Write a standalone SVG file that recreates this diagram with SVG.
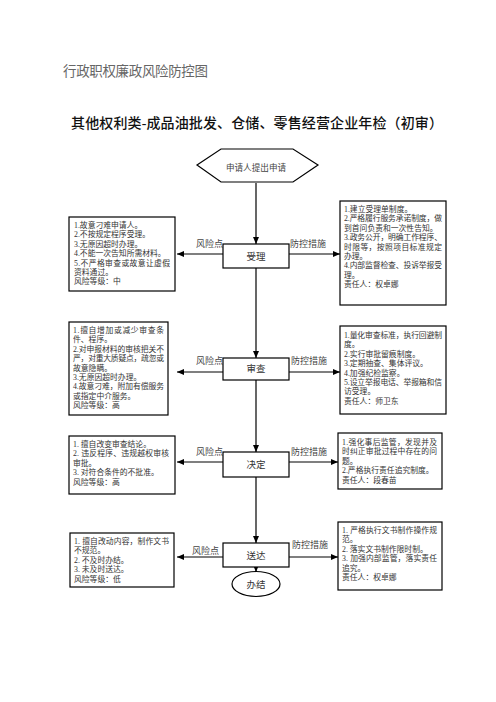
<svg xmlns="http://www.w3.org/2000/svg" width="496" height="702" viewBox="0 0 496 702">
<style>
text{font-family:"Liberation Serif","Noto Sans CJK SC",serif;}
.box{fill:#fff;stroke:#000;stroke-width:1.2;}
.t{font-size:7.8px;fill:#333;}
.lbl{font-size:9px;fill:#444;}
.proc{font-size:9.5px;fill:#333;text-anchor:middle;}
.ln{stroke:#000;stroke-width:1.2;fill:none;marker-end:url(#ah);}
</style>
<defs>
<marker id="ah" markerUnits="userSpaceOnUse" markerWidth="8" markerHeight="6" refX="7" refY="3" orient="auto">
<path d="M0,0 L7,3 L0,6 z" fill="#000"/>
</marker>
</defs>
<rect width="496" height="702" fill="#fff"/>
<text x="63" y="76" font-size="13.5" fill="#666" textLength="145">行政职权廉政风险防控图</text>
<text x="71" y="128" font-size="14" fill="#111" font-weight="500" textLength="372">其他权利类-成品油批发、仓储、零售经营企业年检（初审）</text>

<g id="connectors">
<line class="ln" x1="256" y1="183" x2="256" y2="244"/>
<line class="ln" x1="256" y1="268" x2="256" y2="358"/>
<line class="ln" x1="256" y1="380" x2="256" y2="452"/>
<line class="ln" x1="256" y1="477" x2="256" y2="543"/>
<line class="ln" x1="256" y1="567" x2="256" y2="572"/>
<line class="ln" x1="223" y1="254" x2="177" y2="254"/>
<line class="ln" x1="289" y1="254" x2="340" y2="254"/>
<line class="ln" x1="223" y1="372" x2="177" y2="372"/>
<line class="ln" x1="289" y1="372" x2="340" y2="372"/>
<line class="ln" x1="223" y1="462" x2="177" y2="462"/>
<line class="ln" x1="289" y1="462" x2="338" y2="462"/>
<line class="ln" x1="223" y1="557" x2="177" y2="557"/>
<line class="ln" x1="289" y1="557" x2="338" y2="557"/>
<text class="lbl" x="196" y="247">风险点</text>
<text class="lbl" x="290" y="247">防控措施</text>
<text class="lbl" x="196" y="364">风险点</text>
<text class="lbl" x="291" y="364">防控措施</text>
<text class="lbl" x="196" y="455">风险点</text>
<text class="lbl" x="291" y="455">防控措施</text>
<text class="lbl" x="192" y="554">风险点</text>
<text class="lbl" x="292" y="548">防控措施</text>
</g>

<g id="start">
<polygon class="box" points="197,165 221,149 293,149 318,165 293,182 221,182"/>
<text x="256" y="171" font-size="8.6" fill="#444" text-anchor="middle">申请人提出申请</text>
</g>

<g id="shouli">
<rect class="box" x="223" y="244" width="66" height="24"/>
<text class="proc" x="256" y="259.5">受理</text>
</g>
<g id="shencha">
<rect class="box" x="223" y="358" width="66" height="22"/>
<text class="proc" x="256" y="372">审查</text>
</g>
<g id="jueding">
<rect class="box" x="223" y="452" width="66" height="25"/>
<text class="proc" x="256" y="468">决定</text>
</g>
<g id="songda">
<rect class="box" x="223" y="543" width="66" height="24"/>
<text class="proc" x="256" y="558.5">送达</text>
</g>
<g id="banjie">
<ellipse class="box" cx="256" cy="584" rx="24" ry="12.5"/>
<text class="proc" x="256" y="587.5">办结</text>
</g>

<g id="risk1">
<rect class="box" x="69" y="217" width="106" height="74"/>
<text class="t" x="74" y="228">1.故意刁难申请人。</text>
<text class="t" x="74" y="237.4">2.不按规定程序受理。</text>
<text class="t" x="74" y="246.8">3.无原因超时办理。</text>
<text class="t" x="74" y="256.2">4.不能一次告知所需材料。</text>
<text class="t" x="74" y="265.6" textLength="96">5.不严格审查或故意让虚假</text>
<text class="t" x="74" y="275">资料通过。</text>
<text class="t" x="74" y="284.4">风险等级：中</text>
</g>
<g id="measure1">
<rect class="box" x="340" y="201" width="106" height="104"/>
<text class="t" x="344" y="212">1.建立受理单制度。</text>
<text class="t" x="344" y="221.4" textLength="98">2.严格履行服务承诺制度，做</text>
<text class="t" x="344" y="230.8">到首问负责和一次性告知。</text>
<text class="t" x="344" y="240.2" textLength="98">3.政务公开，明确工作程序、</text>
<text class="t" x="344" y="249.6" textLength="98">时限等，按照项目标准规定</text>
<text class="t" x="344" y="259">办理。</text>
<text class="t" x="344" y="268.4" textLength="98">4.内部监督检查、投诉举报受</text>
<text class="t" x="344" y="277.8">理。</text>
<text class="t" x="344" y="287.2">责任人：权卓娜</text>
</g>

<g id="risk2">
<rect class="box" x="69" y="322" width="99" height="93"/>
<text class="t" x="73" y="333" textLength="91">1.擅自增加或减少审查条</text>
<text class="t" x="73" y="342.4">件、程序。</text>
<text class="t" x="73" y="351.8" textLength="91">2.对申报材料的审核把关不</text>
<text class="t" x="73" y="361.2" textLength="91">严，对重大质疑点，疏忽或</text>
<text class="t" x="73" y="370.6">故意隐瞒。</text>
<text class="t" x="73" y="380">3.无原因超时办理。</text>
<text class="t" x="73" y="389.4" textLength="91">4.故意刁难，附加有偿服务</text>
<text class="t" x="73" y="398.8">或指定中介服务。</text>
<text class="t" x="73" y="408.2">风险等级：高</text>
</g>
<g id="measure2">
<rect class="box" x="340" y="326" width="106" height="88"/>
<text class="t" x="344" y="338" textLength="98">1.量化审查标准，执行回避制</text>
<text class="t" x="344" y="347.4">度。</text>
<text class="t" x="344" y="356.8">2.实行审批留痕制度。</text>
<text class="t" x="344" y="366.2">3.定期抽查、集体评议。</text>
<text class="t" x="344" y="375.6">4.加强纪检监察。</text>
<text class="t" x="344" y="385" textLength="98">5.设立举报电话、举报箱和信</text>
<text class="t" x="344" y="394.4">访受理。</text>
<text class="t" x="344" y="403.8">责任人：师卫东</text>
</g>

<g id="risk3">
<rect class="box" x="69" y="436" width="106" height="58"/>
<text class="t" x="73" y="447">1. 擅自改变审查结论。</text>
<text class="t" x="73" y="456.4" textLength="96">2. 违反程序、违规越权审核</text>
<text class="t" x="73" y="465.8">审批。</text>
<text class="t" x="73" y="475.2">3. 对符合条件的不批准。</text>
<text class="t" x="73" y="484.6">风险等级：高</text>
</g>
<g id="measure3">
<rect class="box" x="338" y="433" width="104" height="56"/>
<text class="t" x="342" y="445" textLength="95">1.强化事后监管，发现并及</text>
<text class="t" x="342" y="454.4" textLength="95">时纠正审批过程中存在的问</text>
<text class="t" x="342" y="463.8">题。</text>
<text class="t" x="342" y="473.2">2.严格执行责任追究制度。</text>
<text class="t" x="342" y="482.6">责任人：段春苗</text>
</g>

<g id="risk4">
<rect class="box" x="70" y="533" width="104" height="54"/>
<text class="t" x="74" y="544" textLength="95">1. 擅自改动内容，制作文书</text>
<text class="t" x="74" y="553.4">不规范。</text>
<text class="t" x="74" y="562.8">2. 不及时办结。</text>
<text class="t" x="74" y="572.2">3. 未及时送达。</text>
<text class="t" x="74" y="581.6">风险等级：低</text>
</g>
<g id="measure4">
<rect class="box" x="338" y="522" width="104" height="68"/>
<text class="t" x="342" y="533" textLength="95">1. 严格执行文书制作操作规</text>
<text class="t" x="342" y="542.4">范。</text>
<text class="t" x="342" y="551.8">2. 落实文书制作限时制。</text>
<text class="t" x="342" y="561.2" textLength="95">3. 加强内部监管，落实责任</text>
<text class="t" x="342" y="570.6">追究。</text>
<text class="t" x="342" y="580">责任人：权卓娜</text>
</g>
</svg>
